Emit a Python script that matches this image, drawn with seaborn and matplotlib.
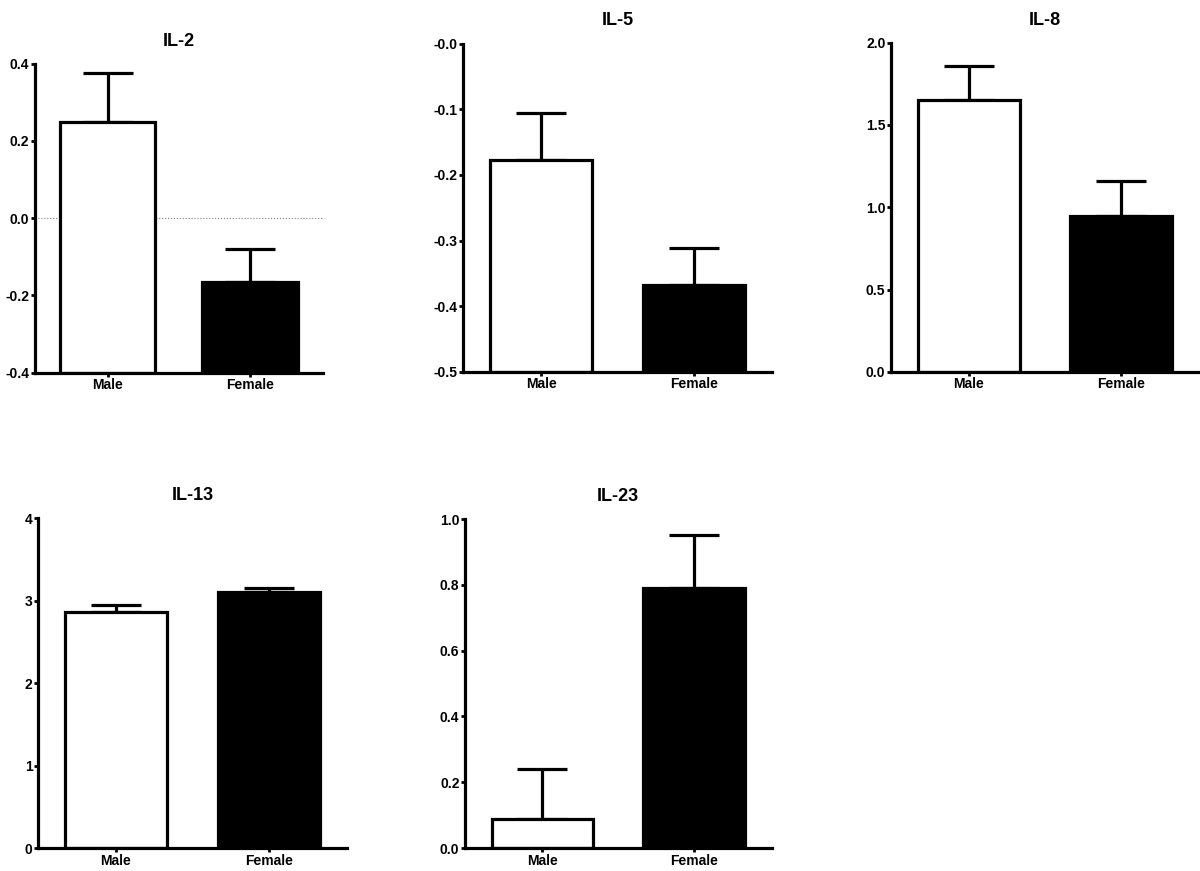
import matplotlib
matplotlib.use("Agg")
import matplotlib.pyplot as plt
import seaborn as sns
import pandas as pd

# Groups on the x axis
groups = ["Male", "Female"]

# Mean and upper SEM value for each cytokine
il2_mean = [0.250, -0.166]
il2_top = [0.376, -0.081]
il5_mean = [-0.178, -0.368]
il5_top = [-0.106, -0.312]
il8_mean = [1.649, 0.947]
il8_top = [1.856, 1.161]
il13_mean = [2.864, 3.100]
il13_top = [2.945, 3.158]
il23_mean = [0.087, 0.792]
il23_top = [0.239, 0.953]

# Axis ranges and tick labels
il2_ticks = [-0.4, -0.2, 0.0, 0.2, 0.4]
il2_ticklabels = ["-0.4", "-0.2", "0.0", "0.2", "0.4"]
il5_ticks = [-0.5, -0.4, -0.3, -0.2, -0.1, 0.0]
il5_ticklabels = ["-0.5", "-0.4", "-0.3", "-0.2", "-0.1", "-0.0"]
il8_ticks = [0.0, 0.5, 1.0, 1.5, 2.0]
il8_ticklabels = ["0.0", "0.5", "1.0", "1.5", "2.0"]
il13_ticks = [0, 1, 2, 3, 4]
il13_ticklabels = ["0", "1", "2", "3", "4"]
il23_ticks = [0.0, 0.2, 0.4, 0.6, 0.8, 1.0]
il23_ticklabels = ["0.0", "0.2", "0.4", "0.6", "0.8", "1.0"]

panels = [
    ("IL-2", il2_mean, il2_top, il2_ticks, il2_ticklabels, [0.029, 0.572, 0.240, 0.355]),
    ("IL-5", il5_mean, il5_top, il5_ticks, il5_ticklabels, [0.386, 0.573, 0.257, 0.377]),
    ("IL-8", il8_mean, il8_top, il8_ticks, il8_ticklabels, [0.7425, 0.573, 0.2565, 0.378]),
    ("IL-13", il13_mean, il13_top, il13_ticks, il13_ticklabels, [0.0317, 0.0264, 0.2573, 0.3786]),
    ("IL-23", il23_mean, il23_top, il23_ticks, il23_ticklabels, [0.3875, 0.0264, 0.2555, 0.3776]),
]

sns.set_style("ticks", {"axes.edgecolor": "black", "text.color": "black",
                        "xtick.color": "black", "ytick.color": "black"})
plt.rcParams["font.family"] = ["Liberation Sans", "DejaVu Sans"]
plt.rcParams["font.weight"] = "bold"

fig = plt.figure(figsize=(12, 8.71), dpi=100)

for title, means, tops, ticks, ticklabels, rect in panels:
    ax = fig.add_axes(rect)
    base = ticks[0]
    df = pd.DataFrame({"group": groups, "height": [m - base for m in means]})

    # bars start at the bottom of the axis, like the original Prism plot
    sns.barplot(data=df, x="group", y="height", hue="group",
                palette=["white", "black"], edgecolor="black", linewidth=2.3,
                width=0.67, bottom=base, legend=False, ax=ax, zorder=2)

    # one-sided (upper) error bars
    xs = list(range(len(groups)))
    up = [t - m for t, m in zip(tops, means)]
    ax.errorbar(xs, means, yerr=[[0] * len(up), up], fmt="none", ecolor="black",
                elinewidth=2.3, capsize=18, capthick=2.3, zorder=1)

    if base < 0 < ticks[-1]:
        ax.axhline(0, color="gray", linestyle=":", linewidth=0.8, zorder=0)

    ax.set_ylim(ticks[0], ticks[-1])
    ax.set_xlim(-0.51, 1.51)
    ax.set_yticks(ticks)
    ax.set_yticklabels(ticklabels)
    ax.set_xlabel("")
    ax.set_ylabel("")
    ax.set_title(title, fontsize=13, fontweight="bold", pad=13, color="black")
    ax.tick_params(axis="both", labelsize=10, width=2, length=3, pad=1,
                   colors="black")
    for lab in ax.get_xticklabels() + ax.get_yticklabels():
        lab.set_fontweight("bold")
    sns.despine(ax=ax)
    ax.spines["left"].set_linewidth(2.3)
    ax.spines["bottom"].set_linewidth(2.3)

fig.savefig("out.png", dpi=100)
